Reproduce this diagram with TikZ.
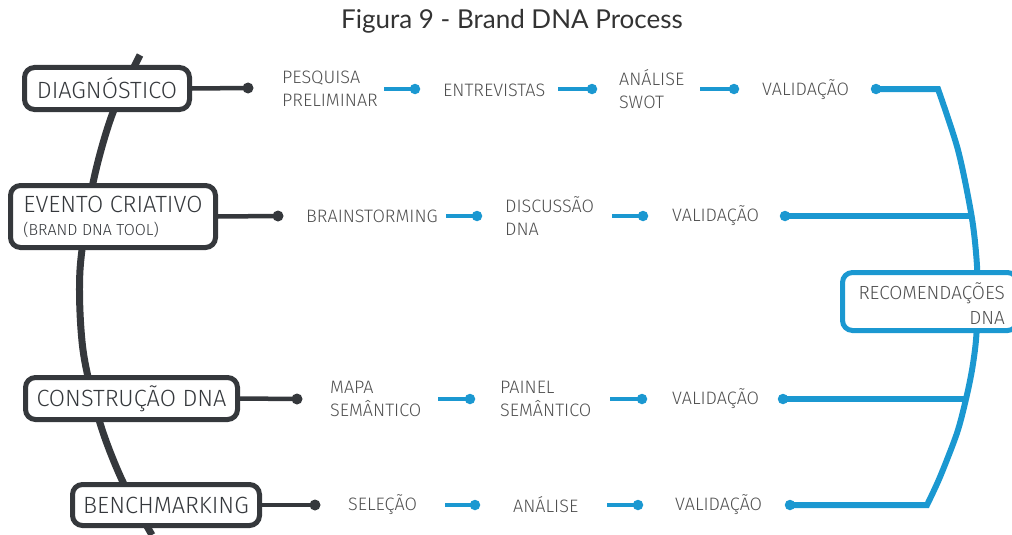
\documentclass[tikz,border=0pt]{standalone}
\usepackage{fontspec}
\newfontfamily\lblfont{Fira Sans Light}
\newfontfamily\titlefont{Lato}
\definecolor{darkc}{HTML}{35383C}
\definecolor{bluec}{HTML}{1B98D1}
\definecolor{textc}{HTML}{505050}
\begin{document}
\begin{tikzpicture}[x=1pt,y=-1pt,
  spine/.style={draw=darkc, line width=7pt},
  stagebox/.style={draw=darkc, line width=5pt, fill=white, rounded corners=10pt,
    inner sep=0pt, text=darkc, font=\lblfont\fontsize{23.5}{26}\selectfont},
  arm/.style={draw=darkc, line width=4.5pt},
  darkdot/.style={circle, fill=darkc, minimum size=11pt, inner sep=0pt},
  bluedot/.style={circle, fill=bluec, minimum size=10.5pt, inner sep=0pt},
  link/.style={draw=bluec, line width=4.5pt},
  trunk/.style={draw=bluec, line width=6pt, line join=miter},
  tasklabel/.style={anchor=west, inner sep=0pt, align=left, text=textc,
    font=\lblfont\fontsize{18}{23}\selectfont}
]
\useasboundingbox (0,0) rectangle (1012,535);
\clip (0,0) rectangle (1012,535);

% title
\node[font=\titlefont\fontsize{26}{29}\selectfont, text=black!80] (title) at (512,21) {Figura 9 - Brand DNA Process};

% dark spine through the stages
\draw[spine] plot[smooth] coordinates {(140,55) (112,115) (93,183) (80,270) (83,350) (100,423) (122,480) (152,535)};

% stage boxes
\node[stagebox, minimum width=165pt, minimum height=42pt] (diag) at (107,88.5) {DIAGNÓSTICO};
\node[stagebox, minimum width=205pt, minimum height=62pt, align=left] (evento) at (113,216.5)
  {EVENTO CRIATIVO\\[-3pt]{\fontsize{16}{19}\selectfont(BRAND DNA TOOL)}};
\node[stagebox, minimum width=212pt, minimum height=42pt] (constr) at (131.5,398.5) {CONSTRUÇÃO DNA};
\node[stagebox, minimum width=187pt, minimum height=41pt] (bench) at (166,505) {BENCHMARKING};

% arms to first dots
\node[darkdot] (a1) at (248,88) {};
\node[darkdot] (a2) at (278,216) {};
\node[darkdot] (a3) at (297,399) {};
\node[darkdot] (a4) at (315,505) {};
\draw[arm] (diag.east) -- (a1.center);
\draw[arm] (evento.east) -- (a2.center);
\draw[arm] (constr.east) -- (a3.center);
\draw[arm] (bench.east) -- (a4.center);

% row 1
\node[tasklabel] (r1a) at (282,89) {PESQUISA\\PRELIMINAR};
\coordinate (s1a) at (384,89); \node[bluedot] (d1a) at (415,89) {};
\node[tasklabel] (r1b) at (443,90) {ENTREVISTAS};
\coordinate (s1b) at (558,89); \node[bluedot] (d1b) at (592,89) {};
\node[tasklabel] (r1c) at (619,89) {ANÁLISE\\SWOT};
\coordinate (s1c) at (700,89); \node[bluedot] (d1c) at (734,89) {};
\node[tasklabel] (r1d) at (762,90) {VALIDAÇÃO};
\node[bluedot] (v1) at (876,89) {};
\draw[link] (s1a) -- (d1a.center);
\draw[link] (s1b) -- (d1b.center);
\draw[link] (s1c) -- (d1c.center);

% row 2
\node[tasklabel] (r2a) at (306,216) {BRAINSTORMING};
\coordinate (s2a) at (446,216); \node[bluedot] (d2a) at (477,216) {};
\node[tasklabel] (r2b) at (505,216) {DISCUSSÃO\\DNA};
\coordinate (s2b) at (612,216); \node[bluedot] (d2b) at (643,216) {};
\node[tasklabel] (r2c) at (672,216) {VALIDAÇÃO};
\node[bluedot] (v2) at (785,216) {};
\draw[link] (s2a) -- (d2a.center);
\draw[link] (s2b) -- (d2b.center);

% row 3
\node[tasklabel] (r3a) at (330,399) {MAPA\\SEMÂNTICO};
\coordinate (s3a) at (438,399); \node[bluedot] (d3a) at (470,399) {};
\node[tasklabel] (r3b) at (500,399) {PAINEL\\SEMÂNTICO};
\coordinate (s3b) at (610,399); \node[bluedot] (d3b) at (642,399) {};
\node[tasklabel] (r3c) at (672,399) {VALIDAÇÃO};
\node[bluedot] (v3) at (783,399) {};
\draw[link] (s3a) -- (d3a.center);
\draw[link] (s3b) -- (d3b.center);

% row 4
\node[tasklabel] (r4a) at (348,505) {SELEÇÃO};
\coordinate (s4a) at (445,505); \node[bluedot] (d4a) at (475,505) {};
\node[tasklabel] (r4b) at (513,505) {ANÁLISE};
\coordinate (s4b) at (607,505); \node[bluedot] (d4b) at (638,505) {};
\node[tasklabel] (r4c) at (675,505) {VALIDAÇÃO};
\node[bluedot] (v4) at (790,505) {};
\draw[link] (s4a) -- (d4a.center);
\draw[link] (s4b) -- (d4b.center);

% blue trunk gathering the validations
\coordinate (j2) at (971.6,216);
\coordinate (j3) at (966,399);
\draw[trunk] (v1.center) -- plot[smooth] coordinates {(938,89) (958,150) (971.6,216) (976.6,260) (978,300) (976,340) (972,370) (966,399) (957,433) (940,477) (927,505)} -- (v4.center);
\draw[trunk, line width=5.5pt] (v2.center) -- (j2);
\draw[trunk, line width=5.5pt] (v3.center) -- (j3);

% result box, running past the right edge
\node[draw=bluec, line width=5pt, fill=white, rounded corners=10pt, inner sep=0pt,
  minimum width=175pt, minimum height=58pt] (rec) at (930,301.5) {};
\node[anchor=east, inner sep=0pt, align=right, text=textc,
  font=\lblfont\fontsize{19}{25}\selectfont] (rectext) at (1005,304) {RECOMENDAÇÕES\\DNA};
\end{tikzpicture}
\end{document}
